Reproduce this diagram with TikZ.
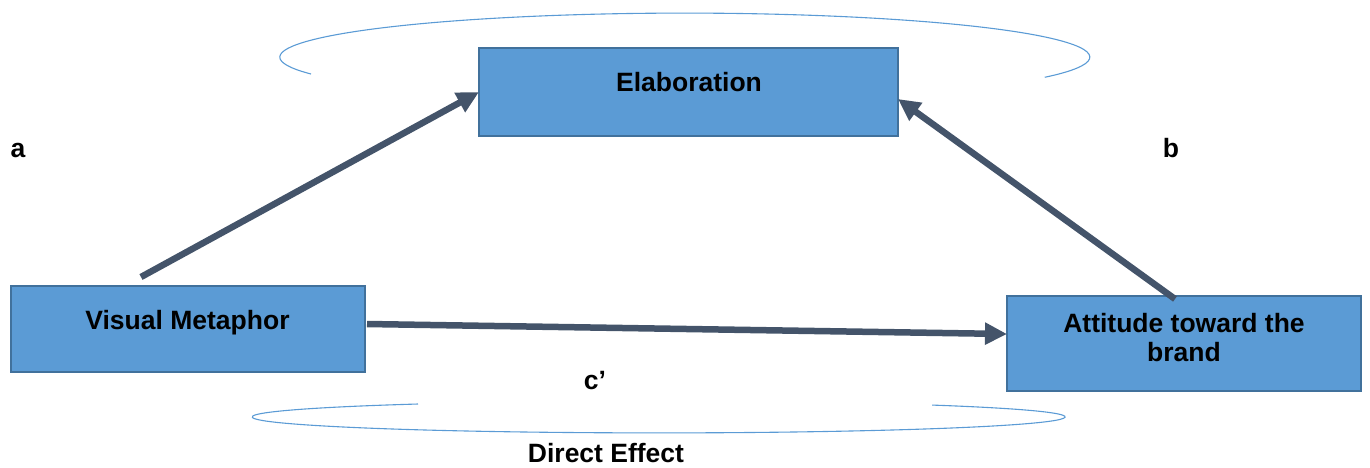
\documentclass[tikz,border=0pt]{standalone}
\usepackage{fontspec}
\setmainfont{Liberation Sans}
\usetikzlibrary{arrows.meta}
\definecolor{boxfill}{HTML}{5B9BD5}
\definecolor{boxline}{HTML}{41719C}
\definecolor{arrowcol}{HTML}{44546A}
\definecolor{ringcol}{HTML}{5B9BD5}
\begin{document}
\begin{tikzpicture}[x=1pt,y=1pt,
  every node/.style={font=\fontsize{26.5}{29}\selectfont\bfseries, text=black},
  varbox/.style={draw=boxline, fill=boxfill, line width=2pt, outer sep=0pt, inner sep=0pt},
  path arrow/.style={draw=arrowcol, line width=6.5pt,
    -{Triangle[length=22pt,width=21pt]}},
  ring/.style={draw=ringcol, line width=1.1pt},
  lbl/.style={anchor=base, inner sep=0pt}]
\useasboundingbox (0,0) rectangle (1370,-467);

% surrounding arcs
\draw[ring] (311,-74) arc[start angle=202.6, end angle=-27.3, x radius=405, y radius=44];
\draw[ring] (418,-404) arc[start angle=126.3, end angle=407.7, x radius=406.5, y radius=16];

% variable boxes
\node[varbox, minimum width=419, minimum height=88] (elab) at (688.5,-92) {};
\node[varbox, minimum width=354, minimum height=86] (vm) at (188,-329) {};
\node[varbox, minimum width=354, minimum height=95] (att) at (1184,-343.5) {};

% box captions (the two-line caption sits on its last baseline)
\node[lbl] (elabtxt) at (689,-91) {Elaboration};
\node[lbl] (vmtxt) at (187.5,-329) {Visual Metaphor};
\node[lbl, align=center] (atttxt) at (1184,-361) {Attitude toward the\\brand};

% paths
\draw[path arrow] ([shift={(-47,9)}]vm.north) -- (elab.west);
\draw[path arrow] ([shift={(-9,-3)}]att.north) -- ([yshift=-7]elab.east);
\draw[path arrow] ([shift={(2,5)}]vm.east) -- ([yshift=9.5]att.west);

% path labels
\node[lbl] (la) at (18,-157) {a};
\node[lbl] (lb) at (1171,-157) {b};
\node[lbl] (lc) at (595,-389) {c’};
\node[lbl] (ldirect) at (606,-462) {Direct Effect};
\end{tikzpicture}
\end{document}
